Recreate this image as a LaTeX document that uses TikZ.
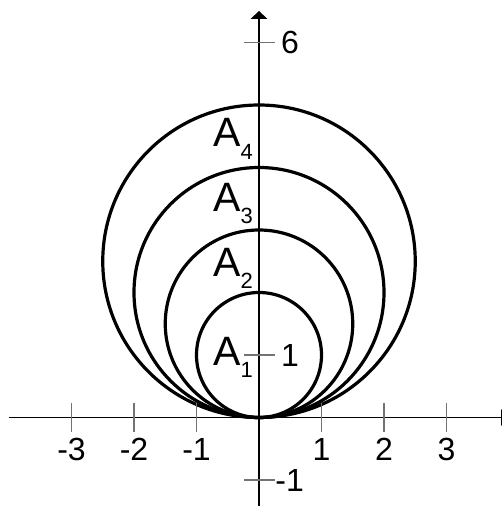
\documentclass[tikz,border=0pt]{standalone}
\usepackage{fontspec}
\setmainfont{Liberation Sans}
\begin{document}
\begin{tikzpicture}[x=62.5pt,y=62.5pt,
  axis/.style={line width=1.3pt},
  tickmark/.style={line width=1.4pt, draw=black!55},
  curve/.style={draw, circle, inner sep=0pt, outer sep=0pt, line width=3.2pt},
  numlabel/.style={inner sep=0pt, font=\fontsize{32}{32}\selectfont},
  alabel/.style={inner sep=0pt, anchor=base west}]
\useasboundingbox (-4.144,-1.416) rectangle (3.888,6.68);
% axes
\coordinate (xs) at (-4,0);
\coordinate (xe) at (3.872,0);
\coordinate (ys) at (0,-1.45);
\coordinate (ye) at (0,6.38);
\draw[axis] (xs) -- (xe);
\draw[axis] (ys) -- (ye);
\fill (-0.136,6.376) -- (0,6.504) -- (0.136,6.376) -- cycle;
\fill (3.872,0.136) -- (4.0,0) -- (3.872,-0.136) -- cycle;
% circles
\foreach \r/\n in {1/c1,1.5/c2,2/c3,2.5/c4}{
  \node[curve, minimum size=2*\r*62.5pt] (\n) at (0,\r) {};
}
% x ticks
\foreach \x in {-3,-2,-1,1,2,3}{
  \draw[tickmark] (\x,-0.23) -- (\x,0.23);
  \node[numlabel] (xl\x) at (\x,-0.51) {\x};
}
% y ticks
\foreach \y in {6,1,-1}{
  \draw[tickmark] (-0.24,\y) -- (0.26,\y);
}
\node[numlabel, anchor=west] (yl6) at (0.35,6) {6};
\node[numlabel, anchor=west] (yl1) at (0.35,0.992) {1};
\node[numlabel, anchor=west] (ylm1) at (0.26,-1) {-1};
% labels
\node[alabel] (a4) at (-0.736,4.328) {\fontsize{41}{41}\selectfont A\raisebox{-13pt}{\fontsize{22}{22}\selectfont 4}};
\node[alabel] (a3) at (-0.736,3.288) {\fontsize{41}{41}\selectfont A\raisebox{-12pt}{\fontsize{22}{22}\selectfont 3}};
\node[alabel] (a2) at (-0.736,2.248) {\fontsize{41}{41}\selectfont A\raisebox{-12pt}{\fontsize{22}{22}\selectfont 2}};
\node[alabel] (a1) at (-0.736,0.84) {\fontsize{41}{41}\selectfont A\raisebox{-13pt}{\fontsize{22}{22}\selectfont 1}};
\end{tikzpicture}
\end{document}
